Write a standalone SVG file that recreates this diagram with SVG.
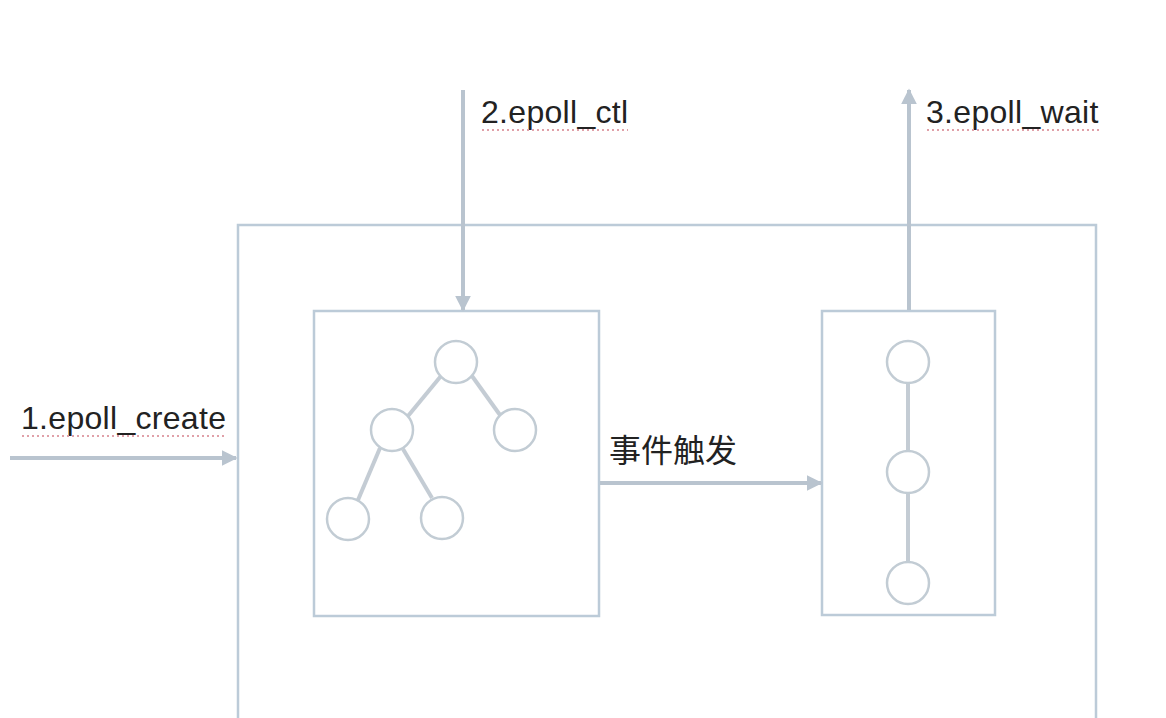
<svg xmlns="http://www.w3.org/2000/svg" width="1166" height="718" viewBox="0 0 1166 718">
<style>
.box{fill:none;stroke:#bccbd8;stroke-width:2.5}
.node{fill:#ffffff;stroke:#c2ccd4;stroke-width:2.5}
.edge{stroke:#c4ccd4;stroke-width:4;fill:none}
.conn{stroke:#b9c4cf;stroke-width:4;fill:none}
.lbl{font-family:"Liberation Sans",Arial,sans-serif;font-size:32px;letter-spacing:0.3px;fill:#222222}
.cjk{font-family:"Noto Sans CJK SC","Liberation Sans",sans-serif;font-size:32px;fill:#222222}
.spell{stroke:#e0a0a8;stroke-width:2;stroke-dasharray:2 3;fill:none}
</style>
<defs>
<marker id="ah" viewBox="0 0 10 10" refX="9" refY="5" markerWidth="4" markerHeight="4" orient="auto" markerUnits="strokeWidth">
<path d="M0,0 L10,5 L0,10 z" fill="#b9c4cf"/>
</marker>
</defs>
<rect width="1166" height="718" fill="#ffffff"/>
<g id="outer"><path class="box" d="M238,720 L238,225 L1096,225 L1096,720"/></g>
<g id="rbtree">
<rect class="box" x="314" y="311" width="285" height="305"/>
<line class="edge" x1="441" y1="376" x2="408" y2="416"/>
<line class="edge" x1="472" y1="376" x2="500" y2="415"/>
<line class="edge" x1="380" y1="448" x2="358" y2="500"/>
<line class="edge" x1="403" y1="449" x2="432" y2="498"/>
<circle class="node" cx="456" cy="362" r="21"/>
<circle class="node" cx="392" cy="430" r="21"/>
<circle class="node" cx="515" cy="430" r="21"/>
<circle class="node" cx="348" cy="519" r="21"/>
<circle class="node" cx="442" cy="518" r="21"/>
</g>
<g id="rdlist">
<rect class="box" x="822" y="311" width="173" height="304"/>
<line class="edge" x1="908" y1="383" x2="908" y2="451"/>
<line class="edge" x1="908" y1="493" x2="908" y2="562"/>
<circle class="node" cx="908" cy="362" r="21"/>
<circle class="node" cx="908" cy="472" r="21"/>
<circle class="node" cx="908" cy="583" r="21"/>
</g>
<g id="connectors">
<line class="conn" x1="10" y1="458" x2="236" y2="458" marker-end="url(#ah)"/>
<line class="conn" x1="463" y1="90" x2="463" y2="310" marker-end="url(#ah)"/>
<line class="conn" x1="909" y1="310" x2="909" y2="90" marker-end="url(#ah)"/>
<line class="conn" x1="600" y1="483" x2="821" y2="483" marker-end="url(#ah)"/>
</g>
<g id="labels">
<text class="lbl" x="21" y="429">1.epoll_create</text>
<line class="spell" x1="22" y1="436" x2="227" y2="436"/>
<text class="lbl" x="481" y="123">2.epoll_ctl</text>
<line class="spell" x1="482" y1="130" x2="628" y2="130"/>
<text class="lbl" x="926" y="123">3.epoll_wait</text>
<line class="spell" x1="927" y1="130" x2="1100" y2="130"/>
<text class="cjk" x="609" y="462">事件触发</text>
</g>
</svg>
